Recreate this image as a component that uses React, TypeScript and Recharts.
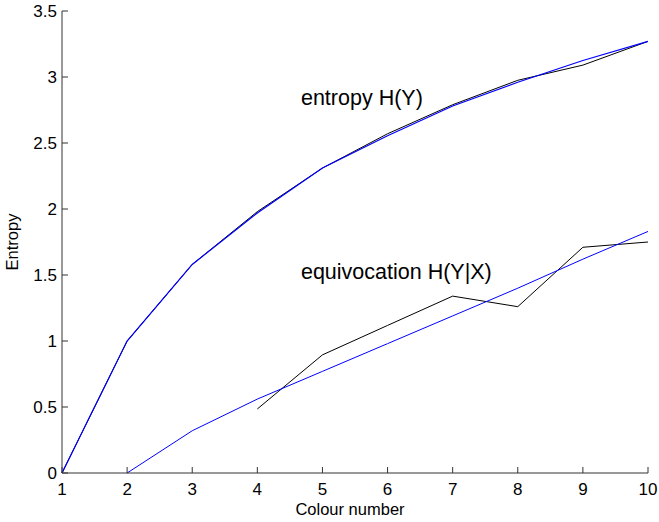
import React from 'react';
import { LineChart, Line, XAxis, YAxis, ReferenceDot, Label } from 'recharts';

const colourNumbers = [1, 2, 3, 4, 5, 6, 7, 8, 9, 10];
const entropyObserved = [0, 1.0, 1.58, 1.98, 2.31, 2.57, 2.79, 2.975, 3.09, 3.27];
const entropyFit = [0, 1.0, 1.58, 1.97, 2.31, 2.555, 2.78, 2.96, 3.125, 3.27];
const equivObserved: (number | null)[] = [null, null, null, 0.485, 0.895, 1.118, 1.34, 1.26, 1.71, 1.75];
const equivFit: (number | null)[] = [null, 0, 0.32, 0.56, 0.77, 0.98, 1.19, 1.4, 1.62, 1.83];
const xTicks = [1, 2, 3, 4, 5, 6, 7, 8, 9, 10];
const yTicks = [0, 0.5, 1, 1.5, 2, 2.5, 3, 3.5];

const annotations = [
  { x: 4.67, y: 2.79, text: 'entropy H(Y)' },
  { x: 4.67, y: 1.47, text: 'equivocation H(Y|X)' },
];

const data = colourNumbers.map((n, i) => ({
  n,
  entropyObserved: entropyObserved[i],
  entropyFit: entropyFit[i],
  equivObserved: equivObserved[i],
  equivFit: equivFit[i],
}));

const FONT = '"Liberation Sans", Arial, Helvetica, sans-serif';
const AXIS = '#333333';

const XTick = (props: any) => {
  const { x, y, payload } = props;
  return (
    <g>
      <line x1={x} y1={y} x2={x} y2={y - 6} stroke={AXIS} strokeWidth={1} />
      <text x={x} y={y + 22} textAnchor="middle" fontSize={17} fontFamily={FONT} fill="#000">
        {payload.value}
      </text>
    </g>
  );
};

const YTick = (props: any) => {
  const { x, y, payload } = props;
  return (
    <g>
      <line x1={x} y1={y} x2={x + 6} y2={y} stroke={AXIS} strokeWidth={1} />
      <text x={x - 5} y={y} dy="0.36em" textAnchor="end" fontSize={17} fontFamily={FONT} fill="#000">
        {payload.value}
      </text>
    </g>
  );
};

export default function App() {
  return (
    <div style={{ position: 'absolute', left: 0, top: 0, width: 659, height: 522, background: '#fff' }}>
      <LineChart width={659} height={522} data={data} margin={{ top: 11, right: 11, bottom: 0, left: 0 }}>
        <XAxis
          dataKey="n"
          type="number"
          domain={[1, 10]}
          ticks={xTicks}
          interval={0}
          height={49}
          stroke={AXIS}
          tickLine={false}
          tickSize={0}
          tickMargin={0}
          tick={<XTick />}
        >
          <Label
            content={(p: any) => {
              const vb = p.viewBox;
              return (
                <text x={vb.x + vb.width / 2 - 5} y={vb.y + 42} textAnchor="middle" fontSize={16.5} fontFamily={FONT} fill="#000">
                  Colour number
                </text>
              );
            }}
          />
        </XAxis>
        <YAxis
          type="number"
          domain={[0, 3.5]}
          ticks={yTicks}
          interval={0}
          width={62}
          stroke={AXIS}
          tickLine={false}
          tickSize={0}
          tickMargin={0}
          tick={<YTick />}
        >
          <Label
            content={(p: any) => {
              const vb = p.viewBox;
              const cx = vb.x + 12;
              const cy = vb.y + vb.height / 2;
              return (
                <text x={cx} y={cy} transform={`rotate(-90 ${cx} ${cy})`} textAnchor="middle" dominantBaseline="central" fontSize={16.5} fontFamily={FONT} fill="#000">
                  Entropy
                </text>
              );
            }}
          />
        </YAxis>
        <Line dataKey="entropyObserved" stroke="#000" strokeWidth={1} dot={false} isAnimationActive={false} />
        <Line dataKey="equivObserved" stroke="#000" strokeWidth={1} dot={false} isAnimationActive={false} />
        <Line dataKey="entropyFit" stroke="#0000ff" strokeWidth={1.2} dot={false} isAnimationActive={false} />
        <Line dataKey="equivFit" stroke="#0000ff" strokeWidth={1} dot={false} isAnimationActive={false} />
        {annotations.map((a) => (
          <ReferenceDot
            key={a.text}
            x={a.x}
            y={a.y}
            r={0}
            ifOverflow="visible"
            shape={(p: any) => (
              <text x={p.cx} y={p.cy} fontSize={21.5} fontFamily={FONT} fill="#000">
                {a.text}
              </text>
            )}
          />
        ))}
      </LineChart>
    </div>
  );
}
